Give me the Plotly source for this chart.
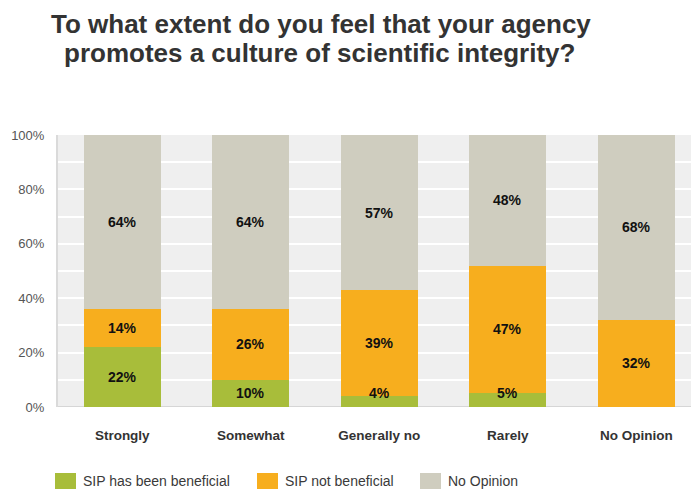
import plotly.graph_objects as go

categories = ["Strongly", "Somewhat", "Generally no", "Rarely", "No Opinion"]
beneficial = [22, 10, 4, 5, 0]
not_beneficial = [14, 26, 39, 47, 32]
no_opinion = [64, 64, 57, 48, 68]
series_names = ["SIP has been beneficial", "SIP not beneficial", "No Opinion"]
colors = ["#a8bd3a", "#f7ae1e", "#cfcdbf"]
y_ticks = [0, 20, 40, 60, 80, 100]
title_lines = ["To what extent do you feel that your agency",
               "promotes a culture of scientific integrity?"]

FONT = "Liberation Sans, Arial, sans-serif"
W, H = 691, 489
ML, MR, MT, MB = 58, 0, 135, 82
PH = H - MT - MB
PW = W - ML - MR


def px_x(px):
    return (px - ML) / PW


def px_y(py):
    return (H - MB - py) / PH


fig = go.Figure()
series = [beneficial, not_beneficial, no_opinion]
for name, vals, col in zip(series_names, series, colors):
    fig.add_trace(go.Bar(
        x=categories, y=vals, name=name, marker=dict(color=col, line=dict(width=0)),
        width=0.6, hoverinfo="x+y+name", showlegend=False))

# data labels
annotations = []
for i, cat in enumerate(categories):
    base = 0
    for vals in series:
        v = vals[i]
        if v > 0:
            ypos = base + v / 2
            if v < 8:
                ypos = base + 5
            annotations.append(dict(
                x=cat, y=ypos, xref="x", yref="y", text=f"{v}%", showarrow=False,
                font=dict(family=FONT, size=14, color="#111111", weight="bold")))
        base += v

# title as two separately placed lines
for line, cy, cx in zip(title_lines, [24, 53], [321, 319]):
    annotations.append(dict(
        text=line, showarrow=False, xref="paper", yref="paper",
        x=px_x(cx), y=px_y(cy), xanchor="center", yanchor="middle",
        font=dict(family=FONT, size=26, color="#333333", weight="bold")))

# legend drawn below the chart (swatch + label)
shapes = []
legend_px = [55, 257, 420]
for name, col, lx in zip(series_names, colors, legend_px):
    shapes.append(dict(type="rect", xref="paper", yref="paper",
                       x0=px_x(lx), x1=px_x(lx + 21), y0=px_y(489), y1=px_y(473),
                       fillcolor=col, line=dict(width=0), layer="above"))
    annotations.append(dict(
        text=name, showarrow=False, xref="paper", yref="paper",
        x=px_x(lx + 26), y=px_y(481), xanchor="left", yanchor="middle",
        font=dict(family=FONT, size=14, color="#3a3a3a")))

shapes.append(dict(type="line", xref="paper", yref="y", x0=0, x1=1, y0=0, y1=0,
                   line=dict(color="#d6d6d6", width=2), layer="below"))

fig.update_layout(
    width=W, height=H,
    margin=dict(l=ML, r=MR, t=MT, b=MB, autoexpand=False),
    paper_bgcolor="white", plot_bgcolor="#efefef",
    barmode="stack", bargap=0.4,
    xaxis=dict(
        range=[-0.5, 4.426], showgrid=False, showline=False, ticks="",
        tickfont=dict(family=FONT, size=13.5, color="#333333", weight="bold"),
        ticklabelstandoff=18, automargin=False, fixedrange=True),
    yaxis=dict(
        range=[0, 100], tickvals=y_ticks, ticktext=[f"{t}%" for t in y_ticks],
        showgrid=True, gridcolor="#ffffff", gridwidth=1.5,
        minor=dict(dtick=10, showgrid=True, gridcolor="#ffffff", gridwidth=1.5),
        zeroline=False, showline=True, linecolor="#dadada", linewidth=2,
        tickfont=dict(family=FONT, size=13, color="#555555"),
        ticklabelstandoff=9, fixedrange=True, automargin=False),
    annotations=annotations,
    shapes=shapes,
    showlegend=False,
)

fig.write_html("out.html", config={"displayModeBar": False},
               post_script="document.body.style.margin='0';")
